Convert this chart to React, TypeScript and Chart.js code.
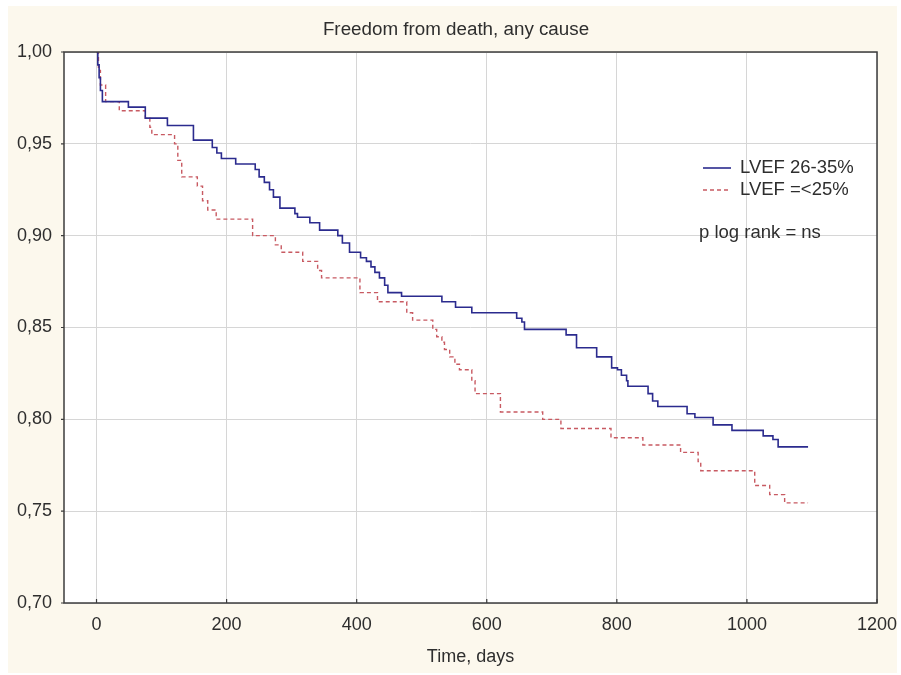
import React, { useEffect, useRef } from 'react';
import { Chart, registerables } from 'chart.js';

Chart.register(...registerables);

const chartTitle = 'Freedom from death, any cause';
const xAxisTitle = 'Time, days';
const noteText = 'p log rank = ns';

const xTickValues = [0, 200, 400, 600, 800, 1000, 1200];
const yTickValues = [0.7, 0.75, 0.8, 0.85, 0.9, 0.95, 1.0];

const seriesALabel = 'LVEF 26-35%';
const seriesADays = [0, 2, 4, 6, 9, 49, 75, 109, 149, 178, 185, 192, 214, 244, 250, 258, 266, 272, 282, 305, 309, 328, 343, 371, 378, 389, 406, 415, 422, 428, 435, 443, 448, 469, 531, 552, 577, 646, 654, 658, 722, 738, 769, 792, 801, 807, 815, 817, 848, 855, 863, 908, 920, 948, 977, 1025, 1040, 1048, 1094];
const seriesASurv = [1.0, 0.993, 0.986, 0.979, 0.973, 0.970, 0.964, 0.960, 0.952, 0.948, 0.945, 0.942, 0.939, 0.936, 0.932, 0.929, 0.925, 0.921, 0.915, 0.912, 0.910, 0.907, 0.903, 0.900, 0.896, 0.891, 0.888, 0.886, 0.883, 0.880, 0.877, 0.873, 0.869, 0.867, 0.864, 0.861, 0.858, 0.855, 0.853, 0.849, 0.846, 0.839, 0.834, 0.828, 0.827, 0.824, 0.821, 0.818, 0.814, 0.810, 0.807, 0.803, 0.801, 0.797, 0.794, 0.791, 0.789, 0.785, 0.785];

const seriesBLabel = 'LVEF =<25%';
const seriesBDays = [0, 3, 6, 14, 35, 75, 82, 85, 120, 125, 131, 155, 163, 171, 184, 240, 275, 284, 317, 340, 346, 405, 432, 477, 486, 517, 523, 531, 535, 543, 551, 558, 577, 582, 621, 686, 714, 791, 840, 898, 925, 929, 1012, 1035, 1058, 1094];
const seriesBSurv = [1.0, 0.990, 0.982, 0.973, 0.968, 0.964, 0.959, 0.955, 0.950, 0.941, 0.932, 0.927, 0.919, 0.914, 0.909, 0.900, 0.895, 0.891, 0.886, 0.881, 0.877, 0.869, 0.864, 0.858, 0.854, 0.849, 0.845, 0.842, 0.838, 0.834, 0.830, 0.827, 0.821, 0.814, 0.804, 0.800, 0.795, 0.790, 0.786, 0.782, 0.777, 0.772, 0.764, 0.759, 0.7545, 0.7545];

const BLUE = '#2b2b8e';
const RED = '#c85a62';
const TEXT = '#2e2e2e';
const FONT = "'Liberation Sans', Arial, sans-serif";

const decorPlugin = {
  id: 'decor',
  beforeDraw(chart: any) {
    const { ctx, chartArea, width, height } = chart;
    ctx.save();
    ctx.fillStyle = '#ffffff';
    ctx.fillRect(0, 0, width, height);
    ctx.fillStyle = '#fcf8ed';
    ctx.fillRect(8, 6, width - 12, height - 8);
    ctx.fillStyle = '#ffffff';
    ctx.fillRect(chartArea.left, chartArea.top, chartArea.right - chartArea.left, chartArea.bottom - chartArea.top);
    ctx.restore();
  },
  afterDraw(chart: any) {
    const { ctx, chartArea, scales } = chart;
    ctx.save();
    // frame
    ctx.strokeStyle = '#3c3c3c';
    ctx.lineWidth = 1.5;
    ctx.strokeRect(chartArea.left, chartArea.top, chartArea.right - chartArea.left, chartArea.bottom - chartArea.top);
    // small tick marks
    ctx.lineWidth = 1.2;
    ctx.beginPath();
    scales.x.ticks.forEach((t: any) => {
      const px = scales.x.getPixelForValue(t.value);
      ctx.moveTo(px, chartArea.bottom);
      ctx.lineTo(px, chartArea.bottom - 4);
    });
    scales.y.ticks.forEach((t: any) => {
      const py = scales.y.getPixelForValue(t.value);
      ctx.moveTo(chartArea.left - 3, py);
      ctx.lineTo(chartArea.left, py);
    });
    ctx.stroke();
    // title
    ctx.fillStyle = TEXT;
    ctx.font = `18.8px ${FONT}`;
    ctx.textAlign = 'center';
    ctx.textBaseline = 'middle';
    ctx.fillText(chartTitle, 456, 30);
    // legend
    ctx.font = `18.5px ${FONT}`;
    const ds = chart.data.datasets;
    const lx = 703;
    const rows = [168, 190];
    ctx.textAlign = 'left';
    ds.forEach((d: any, i: number) => {
      ctx.beginPath();
      ctx.strokeStyle = d.borderColor;
      ctx.lineWidth = d.borderWidth;
      ctx.setLineDash(d.borderDash || []);
      ctx.moveTo(lx, rows[i]);
      ctx.lineTo(lx + 28, rows[i]);
      ctx.stroke();
      ctx.setLineDash([]);
      ctx.fillStyle = TEXT;
      ctx.fillText(d.label, lx + 37, rows[i]);
    });
    ctx.fillText(noteText, 699, 233);
    ctx.restore();
  },
};

export default function App() {
  const ref = useRef<HTMLCanvasElement | null>(null);
  useEffect(() => {
    if (!ref.current) return;
    const chart = new Chart(ref.current, {
      type: 'line',
      data: {
        datasets: [
          {
            label: seriesALabel,
            data: seriesADays.map((d, i) => ({ x: d, y: seriesASurv[i] })),
            borderColor: BLUE,
            borderWidth: 1.6,
            stepped: true,
            pointRadius: 0,
            fill: false,
          },
          {
            label: seriesBLabel,
            data: seriesBDays.map((d, i) => ({ x: d, y: seriesBSurv[i] })),
            borderColor: RED,
            borderWidth: 1.4,
            borderDash: [4, 3],
            stepped: true,
            pointRadius: 0,
            fill: false,
          },
        ],
      },
      options: {
        animation: false,
        responsive: false,
        maintainAspectRatio: false,
        layout: { padding: { left: 17, right: 24, top: 52, bottom: 0 } },
        plugins: {
          legend: { display: false },
          title: { display: false },
          tooltip: { enabled: false },
        },
        scales: {
          x: {
            type: 'linear',
            min: -50,
            max: 1200,
            afterBuildTicks: (scale: any) => {
              scale.ticks = xTickValues.map((v) => ({ value: v }));
            },
            afterFit: (scale: any) => {
              scale.height = 72;
              scale.paddingLeft = 0;
              scale.paddingRight = 0;
            },
            grid: { color: '#d6d6d6', lineWidth: 1, drawTicks: false },
            border: { display: false },
            ticks: {
              color: TEXT,
              font: { family: FONT, size: 18 },
              padding: 11,
              maxRotation: 0,
              callback: (v: any) => String(v),
            },
            title: {
              display: true,
              text: xAxisTitle,
              color: TEXT,
              font: { family: FONT, size: 18 },
              padding: { top: 0, bottom: 7 },
            },
          },
          y: {
            type: 'linear',
            min: 0.7,
            max: 1.0,
            afterBuildTicks: (scale: any) => {
              scale.ticks = yTickValues.map((v) => ({ value: v }));
            },
            afterFit: (scale: any) => {
              scale.width = 47;
              scale.paddingTop = 0;
              scale.paddingBottom = 0;
            },
            grid: { color: '#d6d6d6', lineWidth: 1, drawTicks: false },
            border: { display: false },
            ticks: {
              color: TEXT,
              font: { family: FONT, size: 18 },
              crossAlign: 'far',
              padding: 11,
              callback: (v: any) => Number(v).toFixed(2).replace('.', ','),
            },
          },
        },
      },
      plugins: [decorPlugin],
    });
    return () => chart.destroy();
  }, []);
  return (
    <div style={{ position: 'fixed', left: 0, top: 0, width: 901, height: 675 }}>
      <canvas ref={ref} width={901} height={675} />
    </div>
  );
}
